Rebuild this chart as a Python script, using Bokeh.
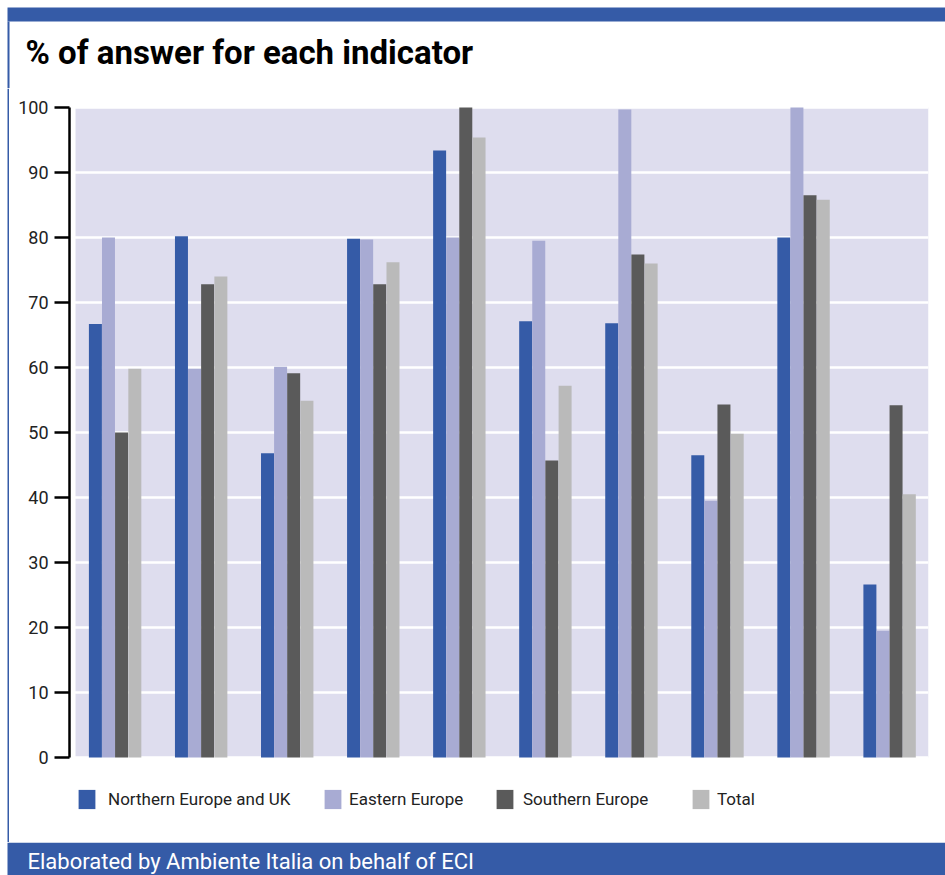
from bokeh.plotting import figure
from bokeh.layouts import column, row
from bokeh.models import (ColumnDataSource, Range1d, BoxAnnotation, Label, Legend,
                          LegendItem, FixedTicker)
from bokeh.transform import dodge
from bokeh.embed import file_html
from bokeh.resources import INLINE

# ---------------- data ----------------
indicators = [1, 2, 3, 4, 5, 6, 7, 8, 9, 10]
northern = [66.7, 80.2, 46.8, 79.8, 93.4, 67.1, 66.8, 46.5, 80.0, 26.6]
eastern = [80.0, 59.8, 60.1, 79.7, 80.0, 79.5, 99.7, 39.5, 100.0, 19.5]
southern = [50.0, 72.8, 59.1, 72.8, 100.0, 45.7, 77.4, 54.3, 86.5, 54.2]
total = [59.8, 74.0, 54.9, 76.2, 95.4, 57.2, 76.0, 49.8, 85.8, 40.5]
series_names = ["Northern Europe and UK", "Eastern Europe", "Southern Europe", "Total"]
y_ticks = [0, 10, 20, 30, 40, 50, 60, 70, 80, 90, 100]
title_text = "% of answer for each indicator"
source_text = "Elaborated by Ambiente Italia on behalf of ECI"

# ---------------- style ----------------
colors = ["#355BA7", "#A8ABD3", "#5A5A5A", "#BABABA"]
BAND = "#355BA7"
BG = "#DEDDEE"
FONT = "Roboto"
W = 945
HDR_H, MAIN_H, FTR_H = 88, 754, 33
STRIP_W = 9


def blank(width, height, bg="white"):
    f = figure(width=width, height=height, output_backend="svg", toolbar_location=None,
               x_range=Range1d(0, width), y_range=Range1d(height, 0),
               x_axis_type=None, y_axis_type=None, min_border=0,
               outline_line_color=None, background_fill_color=bg, border_fill_color=bg)
    return f


def band(left, right, top, bottom):
    return BoxAnnotation(left=left, right=right, top=top, bottom=bottom,
                         fill_color=BAND, fill_alpha=1, line_alpha=0)


# ---------------- header ----------------
hdr = blank(W, HDR_H)
hdr.add_layout(band(7, W, 7, 21))
hdr.add_layout(band(7, 9, 21, HDR_H))
hdr.add_layout(Label(x=25, y=52, text=title_text, text_font=FONT, text_font_size="33px",
                     text_font_style="bold", text_color="black", text_baseline="alphabetic"))

# ---------------- left strip ----------------
strip = blank(STRIP_W, MAIN_H)
strip.add_layout(band(7, 9, 0, MAIN_H))

# ---------------- main chart ----------------
source = ColumnDataSource(dict(x=indicators, s0=northern, s1=eastern, s2=southern, s3=total))

p = figure(width=W - STRIP_W, height=MAIN_H, output_backend="svg", toolbar_location=None,
           x_range=Range1d(0.471, 10.453), y_range=Range1d(-13.077, 102.923),
           x_axis_location=None,
           min_border_left=60, min_border_right=17, min_border_top=0, min_border_bottom=0,
           background_fill_color="white", border_fill_color="white",
           outline_line_color=None, title=None)

# chart background from 0 to 100, starting slightly right of the axis
p.add_layout(BoxAnnotation(left=0.541, bottom=0, top=100, fill_color=BG, fill_alpha=1.0,
                           line_alpha=0, level="image"))

bw = 0.151
offsets = [-0.228, -0.076, 0.076, 0.230]
renderers = []
for i, off in enumerate(offsets):
    r = p.vbar(x=dodge("x", off, range=p.x_range), top="s%d" % i, width=bw, bottom=0,
               source=source, fill_color=colors[i], line_color=None)
    renderers.append(r)

for g in p.xgrid:
    g.visible = False
p.ygrid.ticker = FixedTicker(ticks=y_ticks)
p.ygrid.grid_line_color = "white"
p.ygrid.grid_line_width = 2.5
p.ygrid.level = "underlay"

ya = p.yaxis[0]
ya.ticker = FixedTicker(ticks=y_ticks)
ya.bounds = (0, 100)
ya.axis_line_color = "black"
ya.axis_line_width = 2.5
ya.major_tick_line_color = "black"
ya.major_tick_line_width = 2.5
ya.major_tick_out = 15
ya.major_tick_in = 0
ya.minor_tick_out = 0
ya.minor_tick_in = 0
ya.major_label_standoff = 6
ya.major_label_text_font = FONT
ya.major_label_text_font_size = "18px"
ya.major_label_text_color = "#222222"

# legends, one per item for exact placement (inside the frame, below the zero line)
legend_x = [7, 253, 425, 621]
legend_standoff = [11, 6, 8, 6]
for i in range(4):
    lg = Legend(items=[LegendItem(label=series_names[i], renderers=[renderers[i]])],
                location=(legend_x[i], 31), orientation="horizontal",
                padding=0, margin=0, spacing=0, border_line_alpha=0,
                background_fill_alpha=0, glyph_width=21, glyph_height=24,
                label_standoff=legend_standoff[i], label_text_font=FONT,
                label_text_font_size="17px", label_text_color="#222222", label_height=20)
    p.add_layout(lg)

# ---------------- footer ----------------
ftr = blank(W, FTR_H)
ftr.add_layout(band(7, W, 0, FTR_H))
ftr.add_layout(Label(x=27, y=19, text=source_text, text_font=FONT, text_font_size="22px",
                     text_color="white", text_baseline="alphabetic"))

layout = column(hdr, row(strip, p, spacing=0), ftr, spacing=0)

open("out.html", "w").write(file_html(layout, INLINE))
